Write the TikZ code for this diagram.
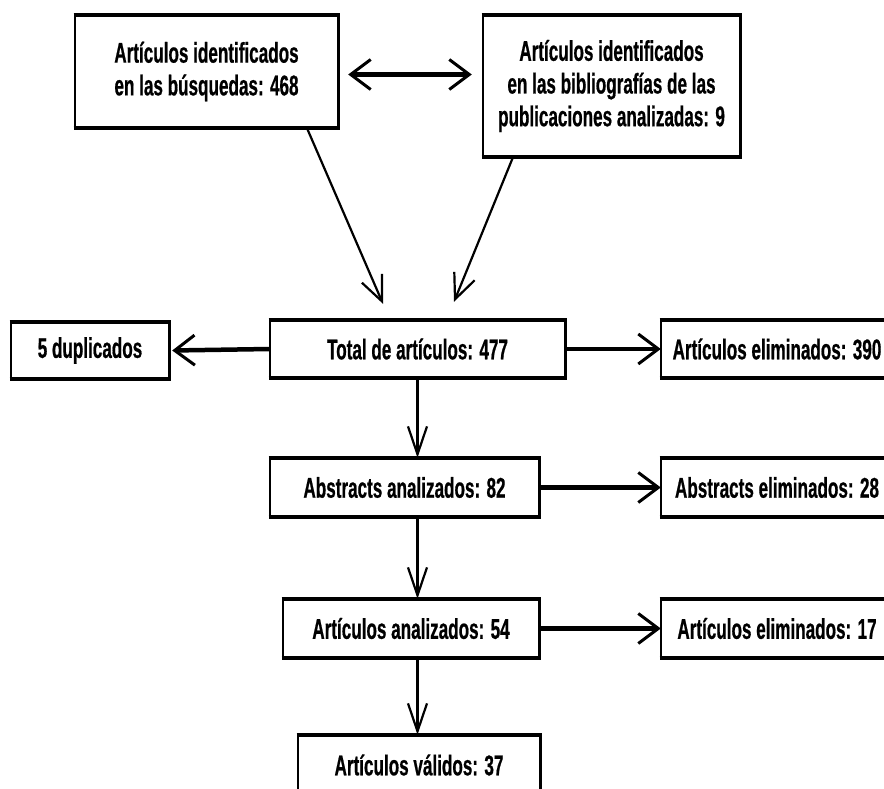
\documentclass[tikz,border=0pt]{standalone}
\usepackage{fontspec}
\setmainfont{Liberation Sans}[FakeStretch=0.6, BoldFeatures={FakeBold=0.6}]
\usetikzlibrary{arrows.meta,calc}
\begin{document}
\begin{tikzpicture}[x=1pt,y=-1pt,
  box/.style={inner sep=0pt, align=center, font=\fontsize{28.5}{32.7}\selectfont\bfseries},
  vert/.style={line width=2.2pt, -{Straight Barb[length=28pt,width=19pt]}},
  horiz/.style={line width=4.5pt, -{Straight Barb[length=20pt,width=30pt,line width=3pt]}},
  diag/.style={line width=2.2pt, -{Straight Barb[length=25pt,width=22pt]}},
  sideln/.style={line width=2.6pt},
  topln/.style={line width=4.5pt}]
\useasboundingbox (0,0) rectangle (884,789);
\clip (0,0) rectangle (884,789);
\fill[white] (0,0) rectangle (884,789);
% nodes
\node[box, minimum width=263pt, minimum height=113pt] (A) at (206.5,71.5) {Artículos identificados\\en las búsquedas: 468};
\node[box, minimum width=257pt, minimum height=142pt] (B) at (611.5,86) {Artículos identificados\\en las bibliografías de las\\publicaciones analizadas: 9};
\node[box, minimum width=158pt, minimum height=57pt] (dup) at (90,350.5) {5 duplicados};
\node[box, minimum width=295pt, minimum height=58pt] (total) at (417.5,349) {Total de artículos: 477};
\node[box, minimum width=232pt, minimum height=58pt] (e390) at (777,349) {Artículos eliminados: 390};
\node[box, minimum width=269pt, minimum height=59pt] (abs) at (404.5,487.5) {Abstracts analizados: 82};
\node[box, minimum width=232pt, minimum height=59pt] (e28) at (777,487.5) {Abstracts eliminados: 28};
\node[box, minimum width=256pt, minimum height=59pt] (art) at (411,628.5) {Artículos analizados: 54};
\node[box, minimum width=232pt, minimum height=59pt] (e17) at (777,628.5) {Artículos eliminados: 17};
\node[box, minimum width=242pt, minimum height=60pt] (val) at (419,765) {Artículos válidos: 37};
% box borders
\foreach \n in {A,B,dup,total,e390,abs,e28,art,e17,val}{
  \draw[sideln] (\n.north west) -- (\n.south west) (\n.north east) -- (\n.south east);
  \draw[topln] ([xshift=-1.3pt]\n.north west) -- ([xshift=1.3pt]\n.north east)
               ([xshift=-1.3pt]\n.south west) -- ([xshift=1.3pt]\n.south east);
}
% connectors
\draw[horiz, {Straight Barb[length=20pt,width=30pt,line width=3pt]}-{Straight Barb[length=20pt,width=30pt,line width=3pt]}, shorten <=10pt, shorten >=11pt] ([yshift=-3pt]A.east) -- ([yshift=-3pt]B.west |- A.east);
\draw[diag] ([xshift=100.5pt]A.south) -- ([xshift=-34.5pt,yshift=16pt]total.north);
\draw[diag] ([xshift=-98.5pt]B.south) -- ([xshift=36.5pt,yshift=18pt]total.north);
\draw[horiz] (total.west) -- ([xshift=3pt]dup.east);
\draw[horiz] (total.east) -- (e390.west);
\draw[horiz] (abs.east) -- (e28.west);
\draw[horiz] (art.east) -- (e17.west);
\draw[vert] (total.south) -- (total.south |- abs.north);
\draw[vert] (total.south |- abs.south) -- (total.south |- art.north);
\draw[vert] (total.south |- art.south) -- (total.south |- val.north);
\end{tikzpicture}
\end{document}
